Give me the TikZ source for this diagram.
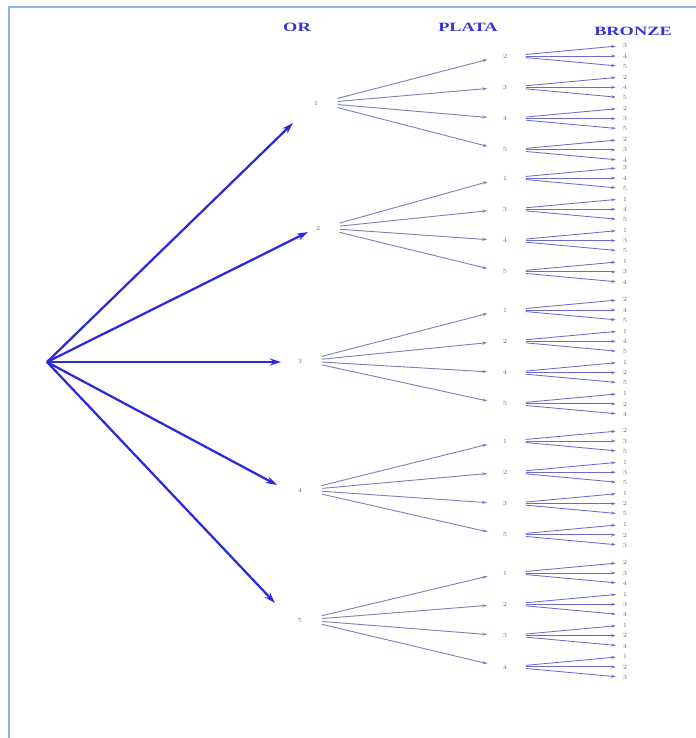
\documentclass[tikz,border=0pt]{standalone}
\usepackage{fontspec}
\usetikzlibrary{arrows.meta}
\newfontfamily\headfont{Liberation Serif}
\definecolor{frameblue}{HTML}{90B4EA}
\definecolor{headblue}{HTML}{3434D4}
\definecolor{armblue}{HTML}{2A2AD6}
\definecolor{twigblue}{HTML}{8080B8}
\definecolor{sprigblue}{HTML}{6A6AD0}
\newcommand\medal[1]{\scalebox{1.45}[1]{#1}}
\tikzset{>={Stealth[length=4pt,width=3.4pt]}}

\begin{document}
\begin{tikzpicture}[x=0.025cm,y=-0.025cm,
   hd/.style={font=\headfont\bfseries\fontsize{9}{10}\selectfont,text=headblue,inner sep=0},
   tag/.style={font=\fontsize{4.5}{5}\selectfont,text=black!55,inner sep=1pt},
   arm/.style={-{Stealth[length=8pt,width=5pt]},draw=armblue,line width=1.6pt},
   twig/.style={-{Stealth[length=3.5pt,width=2.2pt]},draw=twigblue,line width=0.65pt},
   sprig/.style={-{Stealth[length=3pt,width=2.2pt]},draw=sprigblue,line width=0.6pt}]
  \useasboundingbox (0,0) rectangle (696,738);
  \draw[frameblue,line width=1.4pt] (9,738) -- (9,7) -- (696,7);
  \node[hd] (hor) at (297,27) {\medal{OR}};
  \node[hd] (hpl) at (468,27) {\medal{PLATA}};
  \node[hd] (hbr) at (633,31) {\medal{BRONZE}};
  \coordinate (root) at (47,362);
  \foreach \i/\ox/\oy/\tx/\ty/\pb in {1/316/103/293/123/56, 2/318/228/308/232/178,
      3/300/361/281/362/310, 4/300/490/277/485/441, 5/300/620/275/603/573}{
    \node[tag] (or\i) at (\ox,\oy) {\i};
    \coordinate (t\i) at (\tx,\ty);
    \draw[arm] (root) -- (t\i);
    \foreach \j in {0,...,3}{
      \pgfmathtruncatemacro\p{\j+1<\i ? \j+1 : \j+2}
      \pgfmathsetmacro\py{\pb+31.3*\j}
      \node[tag] (pl\i\j) at (505,\py) {\p};
      \draw[twig,shorten <=13pt,shorten >=10pt] (or\i.east) -- (pl\i\j.west);
      \pgfmathtruncatemacro\lo{min(\i,\p)}
      \pgfmathtruncatemacro\hi{max(\i,\p)}
      \foreach \k in {0,1,2}{
        \pgfmathtruncatemacro\q{\k+1}
        \pgfmathtruncatemacro\q{\q>=\lo ? \q+1 : \q}
        \pgfmathtruncatemacro\q{\q>=\hi ? \q+1 : \q}
        \node[tag] (br\i\j\k) at (625,\py+10.3*\k-10.3) {\q};
        \draw[sprig,shorten <=12pt,shorten >=4pt] (pl\i\j.east) -- (br\i\j\k.west);
      }
    }
  }
\end{tikzpicture}
\end{document}
